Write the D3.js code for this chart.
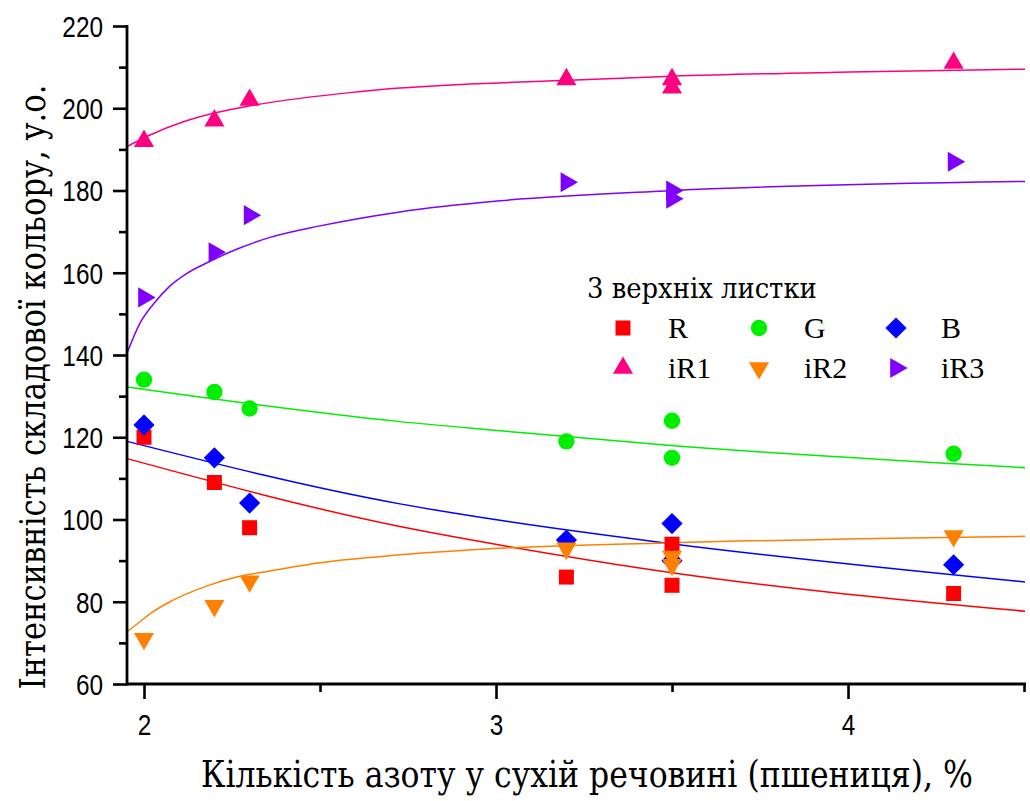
<!DOCTYPE html>
<html lang="uk">
<head>
<meta charset="utf-8">
<script src="https://cdn.jsdelivr.net/npm/d3@7"></script>
<style>
  body { margin: 0; background: #fff; }
  svg { display: block; }
  .serif { font-family: "Liberation Serif", "DejaVu Serif"; }
  .cyr { font-family: "DejaVu Serif"; }
</style>
</head>
<body>
<svg id="chart" width="1030" height="801"></svg>
<script>
// Measured points (x = nitrogen %, one value per point)
const xValues = [2.0, 2.2, 2.3, 3.2, 3.5, 3.5, 4.3];
const rValues = [120, 109, 98, 86, 94, 84, 82];
const gValues = [134, 131, 127, 119, 124, 115, 116];
const bValues = [123, 115, 104, 95, 99, 90, 89];
const iR1Values = [192, 197, 202, 207, 207, 205, 211];
const iR2Values = [71, 79, 85, 93, 91, 89, 96];
const iR3Values = [154, 165, 174, 182, 180, 178, 187];

// Fit curves
const fitLinX = [1.952, 2.727, 3.011, 3.48, 4.503];
const rFit = [114.8, 98.3, 93.8, 87.3, 77.7];
const gFit = [132.2, 123.8, 121.6, 118.1, 112.6];
const bFit = [119.0, 103.8, 99.8, 94.3, 84.8];

const fitIR1X = [1.952, 2.017, 2.112, 2.202, 2.301, 2.443, 2.585, 2.727, 3.202, 3.5, 4.006, 4.503];
const iR1Fit = [190.7, 193.5, 196.7, 198.9, 200.6, 202.4, 203.8, 204.9, 206.8, 207.8, 208.8, 209.5];

const fitSteepX = [1.952, 1.989, 2.026, 2.074, 2.121, 2.188, 2.263, 2.358, 2.5, 2.727, 3.011, 3.48, 4.503];
const iR2Fit = [72.7, 75.2, 77.6, 80.0, 81.9, 84.1, 86.0, 87.5, 89.5, 91.4, 93.0, 94.3, 95.9];
const iR3Fit = [140.5, 147.8, 152.3, 156.8, 159.8, 162.8, 165.7, 168.6, 171.4, 174.8, 177.5, 179.9, 182.2];

const xTicks = [2, 3, 4];
const xMinorTicks = [2.5, 3.5, 4.5];
const yTicks = [60, 80, 100, 120, 140, 160, 180, 200, 220];
const yMinorTicks = [70, 90, 110, 130, 150, 170, 190, 210];

const series = [
  { name: 'R',   values: rValues,   fitX: fitLinX,   fit: rFit,   color: '#ff0000', shape: 'square' },
  { name: 'G',   values: gValues,   fitX: fitLinX,   fit: gFit,   color: '#00ee00', shape: 'circle' },
  { name: 'B',   values: bValues,   fitX: fitLinX,   fit: bFit,   color: '#0000ff', shape: 'diamond' },
  { name: 'iR1', values: iR1Values, fitX: fitIR1X,   fit: iR1Fit, color: '#ff0080', shape: 'up' },
  { name: 'iR2', values: iR2Values, fitX: fitSteepX, fit: iR2Fit, color: '#ff8000', shape: 'down' },
  { name: 'iR3', values: iR3Values, fitX: fitSteepX, fit: iR3Fit, color: '#8000ff', shape: 'right' }
];

const svg = d3.select('#chart');
const plotLeft = 127, plotRight = 1025, plotTop = 26, plotBottom = 684;

const x = d3.scaleLinear().domain([1.9517, 4.5028]).range([plotLeft, plotRight]);
const y = d3.scaleLinear().domain([60, 220]).range([plotBottom, plotTop]);

// marker shapes
const symbolFor = shape => {
  if (shape === 'square') return { gen: d3.symbol(d3.symbolSquare, 225), rot: 0 };
  if (shape === 'circle') return { gen: d3.symbol(d3.symbolCircle, 210), rot: 0 };
  if (shape === 'diamond') return { gen: d3.symbol(d3.symbolSquare, 225), rot: 45 };
  if (shape === 'up') return { gen: d3.symbol(d3.symbolTriangle, 175), rot: 0 };
  if (shape === 'down') return { gen: d3.symbol(d3.symbolTriangle, 175), rot: 180 };
  return { gen: d3.symbol(d3.symbolTriangle, 175), rot: 90 };
};

// squeeze a text horizontally to a target width (fonts here are not condensed)
const squeeze = (sel, width) => {
  const w = sel.node().getComputedTextLength();
  return w ? width / w : 1;
};

// fit lines
const line = d3.line().curve(d3.curveMonotoneX);
series.forEach(s => {
  svg.append('path')
    .attr('d', line(s.fitX.map((v, i) => [x(v), y(s.fit[i])])))
    .attr('fill', 'none')
    .attr('stroke', s.color)
    .attr('stroke-width', 1.5);
});

// points
series.forEach(s => {
  const sym = symbolFor(s.shape);
  svg.append('g').selectAll('path')
    .data(s.values)
    .enter()
    .append('path')
    .attr('d', sym.gen())
    .attr('transform', (d, i) => `translate(${x(xValues[i])},${y(d)}) rotate(${sym.rot})`)
    .attr('fill', s.color);
});

// axes
const xAxis = svg.append('g')
  .attr('transform', `translate(0,${plotBottom})`)
  .call(d3.axisBottom(x).tickValues(xTicks).tickSize(15).tickPadding(8).tickFormat(d3.format('d')));
svg.append('g')
  .attr('transform', `translate(0,${plotBottom})`)
  .call(d3.axisBottom(x).tickValues(xMinorTicks).tickSize(8).tickFormat(''));

const yAxis = svg.append('g')
  .attr('transform', `translate(${plotLeft},0)`)
  .call(d3.axisLeft(y).tickValues(yTicks).tickSize(14).tickPadding(10));
svg.append('g')
  .attr('transform', `translate(${plotLeft},0)`)
  .call(d3.axisLeft(y).tickValues(yMinorTicks).tickSize(8).tickFormat(''));

svg.selectAll('.domain').remove();
svg.append('line')
  .attr('x1', plotLeft).attr('x2', plotRight + 1).attr('y1', plotBottom).attr('y2', plotBottom)
  .attr('stroke', '#000').attr('stroke-width', 2.8);
svg.append('line')
  .attr('x1', plotLeft).attr('x2', plotLeft).attr('y1', plotTop - 1).attr('y2', plotBottom + 1.4)
  .attr('stroke', '#000').attr('stroke-width', 2.8);

svg.selectAll('.tick line').attr('stroke', '#000').attr('stroke-width', 2.6);

// tick labels: narrow look through a horizontal scale
const tickScale = 0.84;
svg.selectAll('.tick text')
  .attr('fill', '#000')
  .style('font-family', '"Liberation Sans"')
  .style('font-size', '29px');
xAxis.selectAll('.tick text')
  .attr('dy', '0.95em')
  .attr('transform', `scale(${tickScale},1)`);
yAxis.selectAll('.tick text')
  .attr('dy', '0.36em')
  .attr('x', -24 / tickScale)
  .attr('transform', `scale(${tickScale},1)`);

// axis titles
const xTitle = svg.append('text')
  .attr('class', 'cyr')
  .attr('text-anchor', 'middle')
  .style('font-size', '38px')
  .text('Кількість азоту у сухій речовині (пшениця), %');
xTitle.attr('transform', `translate(587,787) scale(${squeeze(xTitle, 772)},1)`);

const yTitle = svg.append('text')
  .attr('class', 'cyr')
  .attr('text-anchor', 'middle')
  .style('font-size', '36px')
  .text('Інтенсивність складової кольору, у.о.');
yTitle.attr('transform', `translate(45,387) rotate(-90) scale(${squeeze(yTitle, 605)},1)`);

// legend
const legend = svg.append('g');
const legendTitle = legend.append('text')
  .attr('class', 'cyr')
  .style('font-size', '28px')
  .text('3 верхніх листки');
legendTitle.attr('transform', `translate(587,298) scale(${squeeze(legendTitle, 230)},1)`);

const legendCols = [623, 759, 896];
const legendRows = [328, 368];
series.forEach((s, i) => {
  const cx = legendCols[i % 3];
  const cy = legendRows[Math.floor(i / 3)];
  const sym = symbolFor(s.shape);
  legend.append('path')
    .attr('d', sym.gen())
    .attr('transform', `translate(${cx},${cy}) rotate(${sym.rot})`)
    .attr('fill', s.color);
  legend.append('text')
    .attr('class', 'serif')
    .attr('x', cx + 45).attr('y', cy + 10)
    .style('font-size', '30px')
    .text(s.name);
});
</script>
</body>
</html>
